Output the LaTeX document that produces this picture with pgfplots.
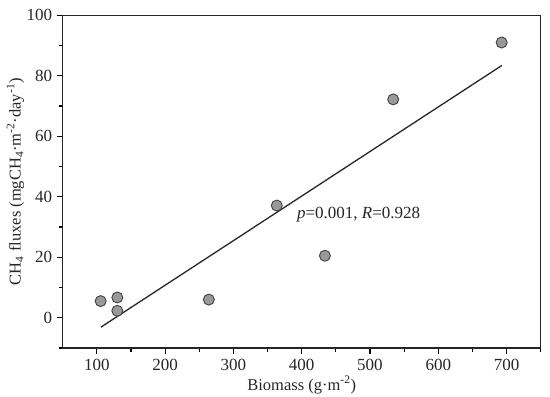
\documentclass[border=0pt]{standalone}
\usepackage{fontspec}
\setmainfont{Liberation Serif}
\usepackage{pgfplots}
\pgfplotsset{compat=1.18}
\begin{document}
\begin{tikzpicture}
\begin{axis}[
  at={(0,0)}, anchor=south west,
  scale only axis,
  width=478pt, height=332.7pt,
  xmin=50, xmax=750, ymin=-10, ymax=100,
  xtick={100,200,...,700},
  minor xtick={150,250,...,750},
  ytick={0,20,...,100},
  minor ytick={-10,10,30,50,70,90},
  tick align=outside,
  xtick pos=bottom, ytick pos=left,
  major tick length=6pt, minor tick length=4pt,
  every tick/.style={black, line width=1.1pt},
  axis line style={line width=1.3pt, black!85},
  /pgf/number format/assume math mode=true,
  ticklabel style={font=\fontsize{17}{19}\selectfont, text=black!85},
  xlabel={Biomass (g·m\textsuperscript{-2})},
  ylabel={CH\textsubscript{4} fluxes (mgCH\textsubscript{4}·m\textsuperscript{-2}·day\textsuperscript{-1})},
  label style={font=\fontsize{16.5}{18}\selectfont, text=black!85},
  xlabel style={at={(axis description cs:0.5,0)}, anchor=base, yshift=-42pt},
  ylabel style={at={(axis description cs:0,0.5)}, anchor=base, yshift=42pt},
  xticklabel style={yshift=-2pt},
  yticklabel style={xshift=-1pt},
]
\addplot[black!85, line width=1.3pt] coordinates {(106,-3.1) (693,83.4)};
\addplot[only marks, mark=*, mark size=5.5pt,
  mark options={fill=black!40, draw=black!75, line width=0.9pt}]
  coordinates {
  (105.6,5.5) (130,6.7) (130,2.3) (264,6.0) (363.5,37.1)
  (434,20.5) (534,72.2) (692.8,91.0)
  };
\node[anchor=west, font=\fontsize{17}{19}\selectfont, text=black!85]
  at (axis cs:388,34.1) {\textit{p}=0.001, \textit{R}=0.928};
\end{axis}
\pgfresetboundingbox
\path (-62.7pt,-49pt) rectangle (487.3pt,348pt);
\end{tikzpicture}
\end{document}
